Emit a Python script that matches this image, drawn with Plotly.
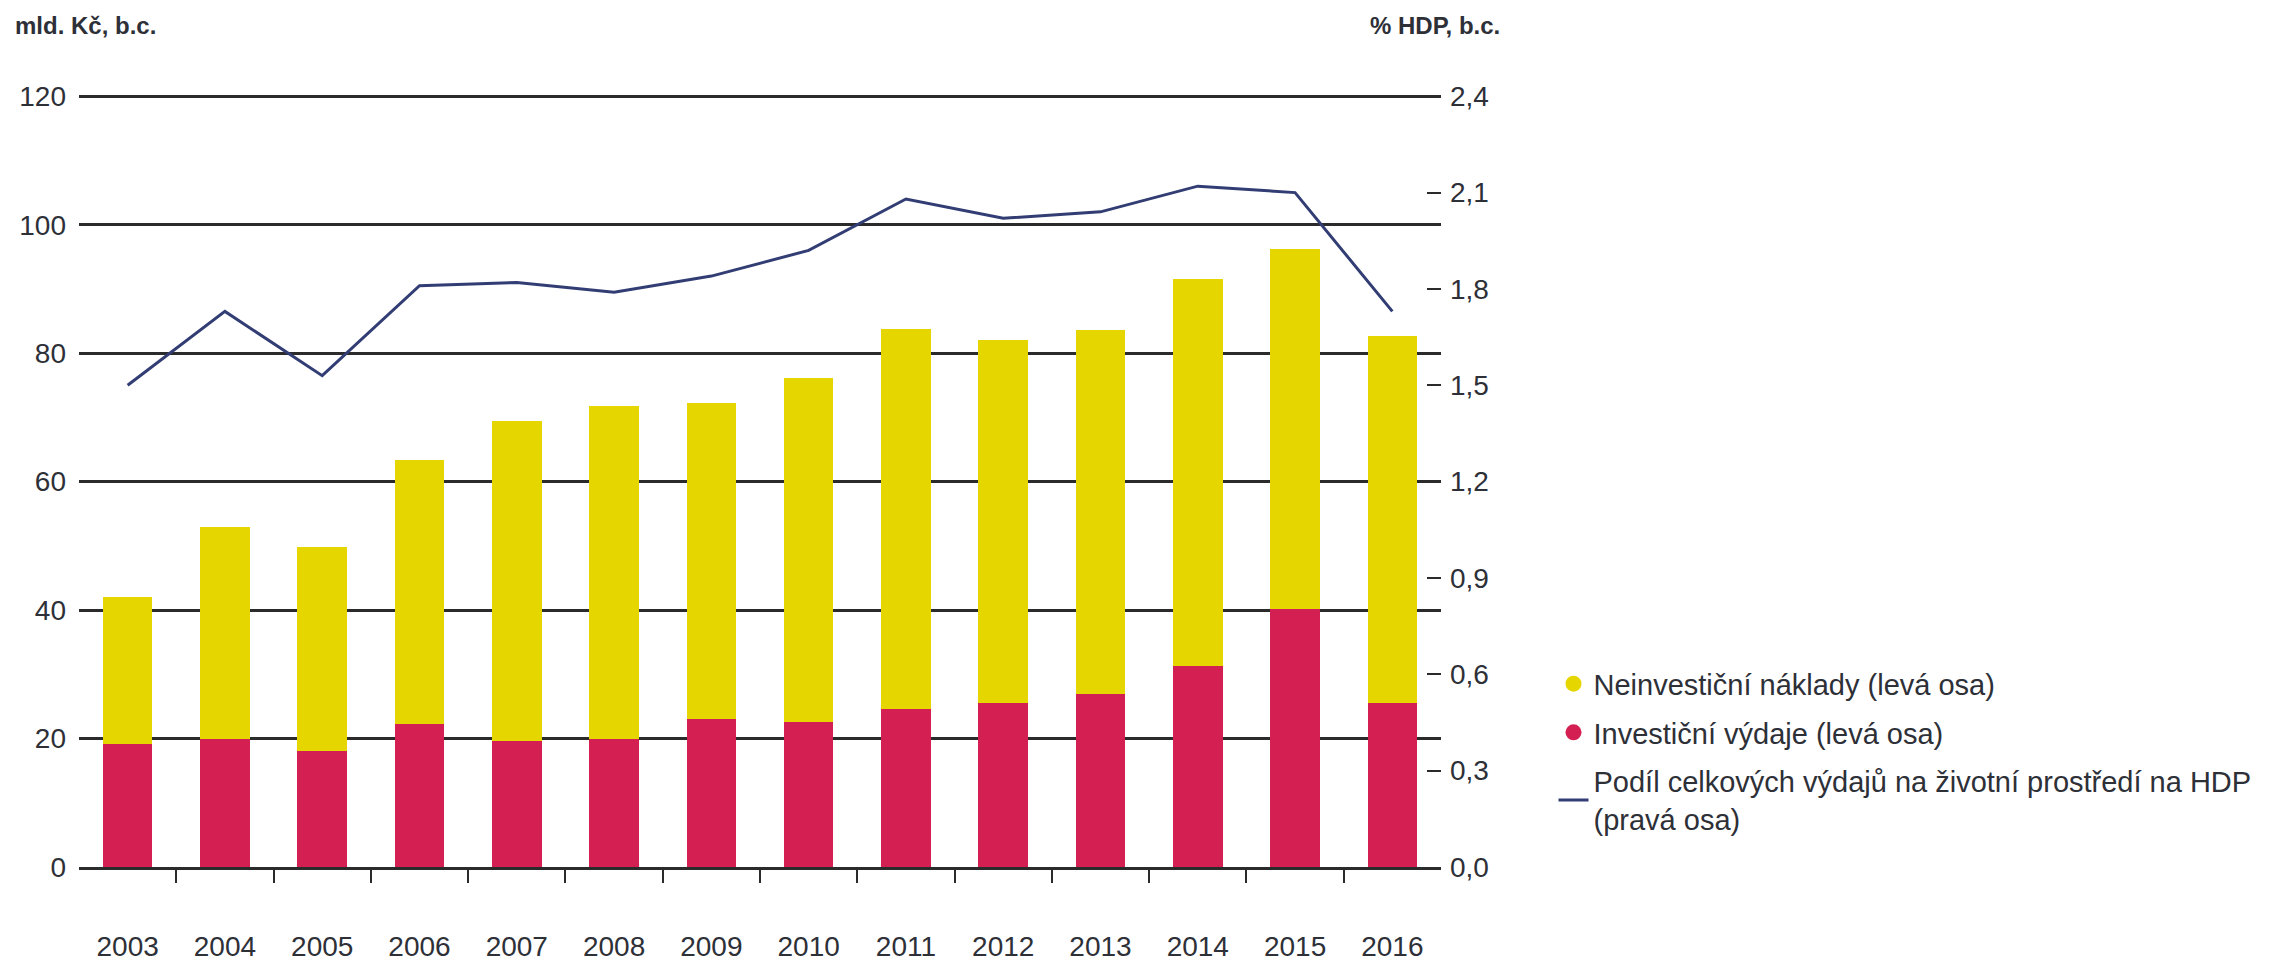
import plotly.graph_objects as go

years = ["2003", "2004", "2005", "2006", "2007", "2008", "2009",
         "2010", "2011", "2012", "2013", "2014", "2015", "2016"]
investicni = [19.2, 19.9, 18.1, 22.2, 19.6, 20.0, 23.1,
              22.6, 24.6, 25.6, 27.0, 31.3, 40.1, 25.5]
neinvesticni = [22.8, 33.1, 31.8, 41.2, 49.9, 51.7, 49.2,
                53.5, 59.2, 56.5, 56.6, 60.3, 56.1, 57.2]
podil_hdp = [1.50, 1.73, 1.53, 1.81, 1.82, 1.79, 1.84,
             1.92, 2.08, 2.02, 2.04, 2.12, 2.10, 1.73]

left_ticks = [0, 20, 40, 60, 80, 100, 120]
right_ticks = [0.0, 0.3, 0.6, 0.9, 1.2, 1.5, 1.8, 2.1, 2.4]

name_nein = "Neinvestiční náklady (levá osa)"
name_inv = "Investiční výdaje (levá osa)"
name_line = "Podíl celkových výdajů na životní prostředí na HDP<br>(pravá osa)"

YELLOW = "#E6D600"
RED = "#D31F52"
NAVY = "#323D74"
DARK = "#2B2B2B"
TEXT = "#2E3038"
FONT = "Liberation Sans, Arial, Helvetica, sans-serif"

idx = list(range(len(years)))
boundaries = [i + 0.5 for i in idx[:-1]]

fig = go.Figure()
fig.add_trace(go.Bar(x=idx, y=investicni, marker=dict(color=RED, line=dict(width=0)),
                     width=0.51, showlegend=False, name=name_inv))
fig.add_trace(go.Bar(x=idx, y=neinvesticni, marker=dict(color=YELLOW, line=dict(width=0)),
                     width=0.51, showlegend=False, name=name_nein))
fig.add_trace(go.Scatter(x=idx, y=podil_hdp, yaxis="y2", mode="lines",
                         line=dict(color=NAVY, width=3), name=name_line,
                         legendgroup="c", legendrank=3))
# legend entries with circle symbols
fig.add_trace(go.Scatter(x=[None], y=[None], mode="markers",
                         marker=dict(color=YELLOW, size=16, symbol="circle"),
                         name=name_nein, legendgroup="a", legendrank=1))
fig.add_trace(go.Scatter(x=[None], y=[None], mode="markers",
                         marker=dict(color=RED, size=16, symbol="circle"),
                         name=name_inv, legendgroup="b", legendrank=2))

# the page body adds an 8 px margin, so the figure is 8 px smaller than the window
fig.update_layout(
    width=2261, height=954,
    margin=dict(l=71, r=828, t=86, b=95, autoexpand=False),
    paper_bgcolor="white", plot_bgcolor="white",
    barmode="stack",
    separators=", ",
    font=dict(family=FONT, size=28, color=TEXT),
    xaxis=dict(
        range=[-0.5, 13.5], tickmode="array", tickvals=idx, ticktext=years,
        ticks="", showgrid=False, zeroline=False, automargin=False,
        showline=True, linecolor=DARK, linewidth=2.5,
        ticklabelstandoff=53,
        tickfont=dict(size=28, color=TEXT),
        minor=dict(tickmode="array", tickvals=boundaries, ticks="outside",
                   ticklen=13, tickwidth=2, tickcolor=DARK, showgrid=False),
    ),
    yaxis=dict(
        range=[0, 120.35], tickmode="array", tickvals=left_ticks,
        showgrid=True, gridcolor=DARK, gridwidth=2.5, zeroline=False,
        ticks="", ticklabelstandoff=12, tickfont=dict(size=28, color=TEXT),
        showline=False, automargin=False,
    ),
    yaxis2=dict(
        range=[0, 2.407], tickmode="array", tickvals=right_ticks, tickformat=".1f",
        overlaying="y", side="right", showgrid=False, zeroline=False,
        ticks="inside", ticklen=14, tickwidth=2, tickcolor=DARK,
        ticklabelstandoff=8, tickfont=dict(size=28, color=TEXT), showline=False,
        automargin=False,
    ),
    legend=dict(
        x=1.0826, y=0.270, xanchor="left", yanchor="top",
        font=dict(family=FONT, size=29, color=TEXT),
        tracegroupgap=8, itemsizing="trace", bgcolor="rgba(0,0,0,0)",
        traceorder="grouped",
    ),
    annotations=[
        dict(text="<b>mld. Kč, b.c.</b>", xref="paper", yref="paper",
             x=-0.0485, y=1.088, xanchor="left", yanchor="middle",
             showarrow=False, font=dict(family=FONT, size=24, color=TEXT)),
        dict(text="<b>% HDP, b.c.</b>", xref="paper", yref="paper",
             x=0.9464, y=1.088, xanchor="left", yanchor="middle",
             showarrow=False, font=dict(family=FONT, size=24, color=TEXT)),
    ],
)

fig.write_html("out.html")
